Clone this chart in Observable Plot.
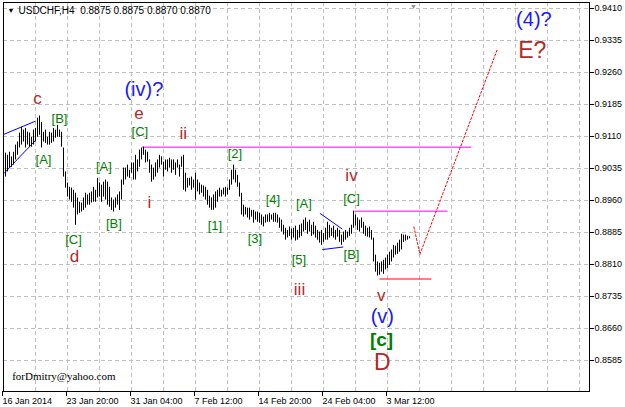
<!DOCTYPE html>
<html><head><meta charset="utf-8">
<script src="https://cdn.jsdelivr.net/npm/d3@7"></script>
<script src="https://cdn.jsdelivr.net/npm/@observablehq/plot@0.6"></script>
<style>html,body{margin:0;padding:0;background:#fff;} #chart{width:625px;height:407px;overflow:hidden}</style>
</head><body><div id="chart"></div>
<script>
// ---- data ----
const symbol = "USDCHF,H4";
const lastQuote = ["0.8875", "0.8875", "0.8870", "0.8870"];
const firstBar = 1;
const highs = [
.9071,.9066,.9073,.9062,.9073,.9090,.9097,.9118,.9132,.9125,
.9129,.9120,.9118,.9108,.9125,.9129,.9153,.9158,.9143,.9120,
.9125,.9108,.9120,.9118,.9129,.9125,.9136,.9125,.9120,.9083,
.9027,.9001,.8991,.8989,.8984,.8977,.8966,.8956,.8954,.8966,
.8977,.8973,.8977,.8980,.8991,.8984,.9012,.9001,.8996,.9003,
.9008,.9003,.8991,.8966,.8961,.8966,.8973,.8980,.9008,.9036,
.9036,.9043,.9031,.9048,.9048,.9066,.9055,.9078,.9083,.9085,
.9078,.9073,.9055,.9043,.9036,.9048,.9055,.9066,.9062,.9050,
.9055,.9055,.9059,.9055,.9055,.9048,.9055,.9043,.9062,.9066,
.9024,.9012,.9012,.9015,.9008,.9024,.9008,.9001,.8996,.8994,
.8991,.8984,.8970,.8966,.8973,.8980,.8984,.8989,.8984,.8989,
.8991,.8989,.9008,.9031,.9043,.9031,.9019,.9001,.8977,.8949,
.8944,.8942,.8942,.8937,.8937,.8933,.8933,.8930,.8926,.8921,
.8926,.8926,.8930,.8926,.8930,.8930,.8926,.8919,.8914,.8902,
.8895,.8890,.8898,.8893,.8895,.8900,.8890,.8902,.8905,.8914,
.8919,.8909,.8914,.8902,.8909,.8900,.8890,.8886,.8890,.8883,
.8895,.8909,.8902,.8895,.8900,.8890,.8895,.8890,.8879,.8886,
.8890,.8886,.8895,.8902,.8935,.8926,.8919,.8914,.8919,.8909,
.8900,.8895,.8898,.8890,.8872,.8832,.8816,.8813,.8816,.8820,
.8825,.8832,.8839,.8844,.8855,.8853,.8860,.8867,.8881,.8879,
.8879,.8876,.8875];
const lows = [
.9015,.9027,.9036,.9038,.9043,.9055,.9066,.9083,.9090,.9097,
.9083,.9090,.9085,.9085,.9090,.9097,.9108,.9113,.9083,.9097,
.9094,.9090,.9090,.9094,.9097,.9106,.9108,.9108,.9085,.9015,
.8989,.8968,.8961,.8956,.8942,.8902,.8926,.8930,.8933,.8937,
.8942,.8949,.8949,.8954,.8956,.8956,.8966,.8968,.8956,.8968,
.8961,.8949,.8944,.8937,.8933,.8942,.8949,.8937,.8961,.8996,
.9008,.9015,.9012,.9024,.9008,.9008,.9027,.9038,.9055,.9066,
.9048,.9050,.9024,.9003,.9008,.9015,.9024,.9036,.9043,.9015,
.9031,.9027,.9036,.9024,.9031,.9019,.9036,.9015,.9038,.8984,
.8980,.8989,.8994,.8984,.8989,.8961,.8980,.8973,.8977,.8968,
.8961,.8949,.8942,.8937,.8937,.8942,.8956,.8968,.8968,.8973,
.8968,.8973,.8984,.8996,.9008,.9001,.8991,.8968,.8926,.8921,
.8926,.8919,.8914,.8921,.8907,.8914,.8909,.8907,.8902,.8898,
.8907,.8909,.8909,.8914,.8909,.8909,.8907,.8895,.8886,.8879,
.8867,.8872,.8876,.8867,.8872,.8865,.8867,.8872,.8876,.8886,
.8890,.8881,.8886,.8876,.8879,.8872,.8867,.8860,.8855,.8862,
.8867,.8867,.8872,.8876,.8872,.8867,.8874,.8862,.8855,.8862,
.8867,.8872,.8876,.8881,.8895,.8900,.8890,.8886,.8895,.8881,
.8876,.8874,.8872,.8867,.8816,.8792,.8783,.8785,.8792,.8787,
.8797,.8801,.8808,.8816,.8825,.8832,.8834,.8839,.8844,.8862,
.8865,.8867,.8870];

const priceTicks = [0.9410, 0.9335, 0.9260, 0.9185, 0.9110, 0.9035, 0.8960, 0.8885, 0.8810, 0.8735, 0.8660, 0.8585];
const dateLabels = ["16 Jan 2014", "23 Jan 20:00", "31 Jan 04:00", "7 Feb 12:00", "14 Feb 20:00", "24 Feb 04:00", "3 Mar 12:00"];
const dateBars = [0, 32, 64, 96, 128, 160, 192];

// trend lines: [bar1, price1, bar2, price2]
const blueLines = [
  [0.15, 0.9115, 16, 0.9146],
  [0.15, 0.9023, 16, 0.9101],
  [158.2, 0.8930, 169.4, 0.8893],
  [159.4, 0.8845, 169.9, 0.8851]
];
const magentaLevels = [[69.4, 233.9, 0.9085], [175.5, 222, 0.8935]];
const redLevels = [[188, 213.9, 0.8776]];
const projectionBars = [205.2, 208.2, 246.9];
const projectionPrices = [0.8898, 0.8834, 0.9314];

// wave labels
const greenText = ["[B]","[A]","[C]","[C]","[A]","[B]","[1]","[2]","[3]","[4]","[A]","[5]","[C]","[B]"];
const greenBar  = [28, 20, 35, 68.2, 50.2, 55.2, 105.7, 115.7, 125.7, 134.7, 150.2, 147.7, 174, 174];
const greenPrice= [.9151,.9055,.8867,.9122,.9039,.8905,.8900,.9069,.8869,.8961,.8953,.8822,.8963,.8832];
const redText  = ["c","d","e","ii","i","iii","iv","v"];
const redBar   = [17, 35.5, 67.7, 89.9, 73, 148, 174, 188.9];
const redPrice = [.9200,.8828,.9164,.9118,.8956,.8751,.9018,.8738];
const redBigText = ["D","E?"];
const redBigBar = [189.4, 264.4];
const redBigPrice = [.8579, .9312];
const blueText = ["(iv)?","(v)","(4)?"];
const blueBar = [70.2, 189.4, 265.2];
const bluePrice = [.9220, .8687, .9383];
const degreeText = ["[c]"];
const degreeBar = [189];
const degreePrice = [.8633];

// ---- build ----
const bars = highs.map((h, i) => ({k: firstBar + i, high: h, low: lows[i]}));
const gridBars = d3.range(16, 289, 16);
const toLinks = arr => arr.map(([a, p, b, q]) => ({x1: a, y1: p, x2: b, y2: q}));
const toLevels = arr => arr.map(([a, b, p]) => ({x1: a, y1: p, x2: b, y2: p}));
const labels = (t, k, p) => t.map((s, i) => ({s, k: k[i], p: p[i]}));
const projection = projectionBars.map((k, i) => ({k, p: projectionPrices[i]}));
const font = "'Liberation Sans', Arial, sans-serif";

const plot = Plot.plot({
  width: 625, height: 407,
  marginTop: 2, marginBottom: 16, marginLeft: 3, marginRight: 36,
  x: {domain: [0, 293]},
  y: {domain: [0.8512344, 0.94240625]},
  style: {fontFamily: font, fontSize: "9px", background: "#fff", color: "#000", overflow: "visible"},
  marks: [
    Plot.ruleY(priceTicks, {stroke: "#c0c0c0", strokeOpacity: 1, strokeDasharray: "4,3"}),
    Plot.ruleX(gridBars, {stroke: "#c0c0c0", strokeOpacity: 1, strokeDasharray: "4,3"}),
    Plot.link(toLevels(magentaLevels), {x1: "x1", y1: "y1", x2: "x2", y2: "y2", stroke: "#ff00ff", strokeWidth: 1}),
    Plot.link(toLevels(redLevels), {x1: "x1", y1: "y1", x2: "x2", y2: "y2", stroke: "#ff0000", strokeWidth: 1}),
    Plot.link(toLinks(blueLines), {x1: "x1", y1: "y1", x2: "x2", y2: "y2", stroke: "#0000ff", strokeWidth: 1}),
    Plot.ruleX(bars, {x: "k", y1: "low", y2: "high", stroke: "#000", strokeWidth: 1}),
    Plot.line(projection, {x: "k", y: "p", stroke: "#ff0000", strokeWidth: 1, strokeDasharray: "2,2", curve: "linear"}),
    Plot.text(labels(greenText, greenBar, greenPrice), {x: "k", y: "p", text: "s", fill: "#008000", fontSize: 13, fontFamily: font}),
    Plot.text(labels(degreeText, degreeBar, degreePrice), {x: "k", y: "p", text: "s", fill: "#008000", fontSize: 19, fontWeight: "bold", fontFamily: font}),
    Plot.text(labels(redText, redBar, redPrice), {x: "k", y: "p", text: "s", fill: "#b02a2a", fontSize: 17, fontFamily: font}),
    Plot.text(labels(redBigText, redBigBar, redBigPrice), {x: "k", y: "p", text: "s", fill: "#b02a2a", fontSize: 23, fontFamily: font}),
    Plot.text(labels(blueText, blueBar, bluePrice), {x: "k", y: "p", text: "s", fill: "#1a1aff", fontSize: 20, fontFamily: font}),
    Plot.frame({stroke: "#000"}),
    Plot.axisY({anchor: "right", ticks: priceTicks, tickSize: 4, tickPadding: 1, label: null, tickFormat: d => d.toFixed(4), fontSize: 9}),
    Plot.axisX({anchor: "bottom", ticks: dateBars, tickSize: 5, tickPadding: 1, label: null, textAnchor: "start", dx: -1, fontSize: 9,
      tickFormat: d => dateLabels[dateBars.indexOf(d)]}),
    Plot.text(["\u25BC"], {frameAnchor: "top-left", dx: 7.5, dy: 8.5, fontSize: 7, fill: "#000", textAnchor: "middle", lineAnchor: "middle"}),
    Plot.text([symbol + "\u00a0\u00a0" + lastQuote.join(" ")], {frameAnchor: "top-left", dx: 15, dy: 8.7, fontSize: 10, fill: "#000", textAnchor: "start", lineAnchor: "middle"}),
    Plot.text(["\u25BC"], {x: 205, frameAnchor: "top", dy: 4, fontSize: 7, fill: "#909090", lineAnchor: "middle"}),
    Plot.text(["forDmitry@yahoo.com"], {frameAnchor: "bottom-left", dx: 8.7, dy: -15.3, fontSize: 11, fontFamily: "'Liberation Serif', 'Times New Roman', serif", fill: "#000", textAnchor: "start", lineAnchor: "middle"})
  ]
});
document.getElementById("chart").append(plot);
</script>
</body></html>
